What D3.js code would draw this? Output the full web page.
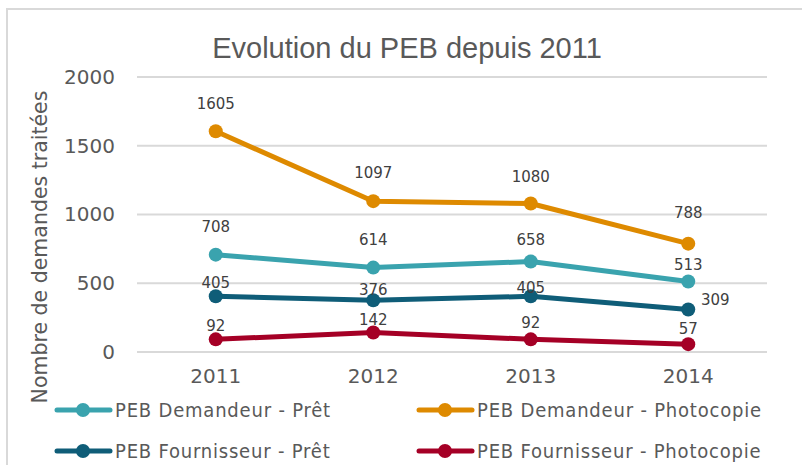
<!DOCTYPE html>
<html>
<head>
<meta charset="utf-8">
<script src="https://cdn.jsdelivr.net/npm/d3@7"></script>
<style>
  html, body { margin: 0; padding: 0; background: #fff; }
  svg { display: block; }
</style>
</head>
<body>
<div id="chart"></div>
<script>
// data
const years = ["2011", "2012", "2013", "2014"];
const seriesNames = [
  "PEB Demandeur - Prêt",
  "PEB Demandeur - Photocopie",
  "PEB Fournisseur - Prêt",
  "PEB Fournisseur - Photocopie"
];
const demandeurPret = [708, 614, 658, 513];
const demandeurPhoto = [1605, 1097, 1080, 788];
const fournisseurPret = [405, 376, 405, 309];
const fournisseurPhoto = [92, 142, 92, 57];
const yTicks = [0, 500, 1000, 1500, 2000];

const colors = ["#3aa3ae", "#de8a00", "#0f5d78", "#a50026"];
// where each value label sits relative to its point [dx, dy]
const labelOffsets = [
  [[0, -28], [0, -28], [0, -22], [0, -17]],
  [[0, -28], [0, -28], [0, -27], [0, -31]],
  [[0, -14], [0, -11], [0, -9], [27, -10]],
  [[0, -14], [0, -13], [0, -17], [0, -15]]
];

const allSeries = [demandeurPret, demandeurPhoto, fournisseurPret, fournisseurPhoto];

const W = 802, H = 465;
const margin = {top: 77, left: 137, right: 35, bottom: 113};

const svg = d3.select("#chart").append("svg")
  .attr("width", W).attr("height", H);

// chart border
svg.append("rect")
  .attr("x", 7).attr("y", 9)
  .attr("width", 820).attr("height", 480)
  .attr("fill", "none").attr("stroke", "#d9d9d9").attr("stroke-width", 2);

const x = d3.scaleBand()
  .domain(years)
  .range([margin.left, W - margin.right]);
const y = d3.scaleLinear()
  .domain([0, 2000])
  .range([H - margin.bottom, margin.top]);
const cx = (d, i) => x(years[i]) + x.bandwidth() / 2;

// gridlines
svg.append("g").selectAll("line")
  .data(yTicks).enter().append("line")
  .attr("x1", margin.left).attr("x2", W - margin.right)
  .attr("y1", d => y(d)).attr("y2", d => y(d))
  .attr("stroke", "#d9d9d9").attr("stroke-width", 2);

// y axis labels
const yAxis = svg.append("g")
  .attr("transform", `translate(${margin.left - 22},0)`)
  .call(d3.axisLeft(y).tickValues(yTicks).tickFormat(d3.format("d")).tickSize(0).tickPadding(0));
yAxis.select(".domain").remove();
yAxis.selectAll("text")
  .attr("font-family", "DejaVu Sans, sans-serif")
  .attr("font-size", 20).attr("fill", "#595959");

// x axis labels
const xAxis = svg.append("g")
  .attr("transform", `translate(0,${y(0) + 17})`)
  .call(d3.axisBottom(x).tickSize(0).tickPadding(0));
xAxis.select(".domain").remove();
xAxis.selectAll("text")
  .attr("font-family", "DejaVu Sans, sans-serif")
  .attr("font-size", 20).attr("fill", "#595959");

// title
svg.append("text")
  .attr("x", 407).attr("y", 58)
  .attr("text-anchor", "middle")
  .attr("font-family", "Liberation Sans, Arial, sans-serif")
  .attr("font-size", 29).attr("fill", "#595959")
  .text("Evolution du PEB depuis 2011");

// y axis title
svg.append("text")
  .attr("transform", "translate(47,247) rotate(-90)")
  .attr("text-anchor", "middle")
  .attr("font-family", "DejaVu Sans, sans-serif")
  .attr("font-size", 20.5).attr("fill", "#595959")
  .text("Nombre de demandes traitées");

const line = d3.line()
  .x(cx)
  .y(d => y(d));

allSeries.forEach((vals, s) => {
  const g = svg.append("g").attr("class", "series");
  g.append("path")
    .datum(vals)
    .attr("d", line)
    .attr("fill", "none")
    .attr("stroke", colors[s])
    .attr("stroke-width", 5)
    .attr("stroke-linejoin", "round");
  g.selectAll("circle")
    .data(vals).enter().append("circle")
    .attr("cx", cx)
    .attr("cy", d => y(d))
    .attr("r", 7)
    .attr("fill", colors[s]);
  g.selectAll("text")
    .data(vals).enter().append("text")
    .attr("x", (d, i) => cx(d, i) + labelOffsets[s][i][0])
    .attr("y", (d, i) => y(d) + labelOffsets[s][i][1])
    .attr("dy", "0.35em")
    .attr("text-anchor", "middle")
    .attr("font-family", "DejaVu Sans, sans-serif")
    .attr("font-size", 15).attr("fill", "#404040")
    .text(d => d);
});

// legend
const legendPos = [[55, 410], [417, 410], [55, 451], [417, 451]];
seriesNames.forEach((name, s) => {
  const [lx, ly] = legendPos[s];
  const lg = svg.append("g").attr("transform", `translate(${lx},${ly})`);
  lg.append("line")
    .attr("x1", 2).attr("x2", 55)
    .attr("stroke", colors[s]).attr("stroke-width", 5)
    .attr("stroke-linecap", "round");
  lg.append("circle").attr("cx", 28).attr("r", 7).attr("fill", colors[s]);
  lg.append("text")
    .attr("x", 60).attr("y", 0).attr("dy", "0.35em")
    .attr("font-family", "DejaVu Sans Condensed, sans-serif")
    .attr("font-size", 20).attr("letter-spacing", 0.8).attr("fill", "#595959")
    .text(name);
});
</script>
</body>
</html>
